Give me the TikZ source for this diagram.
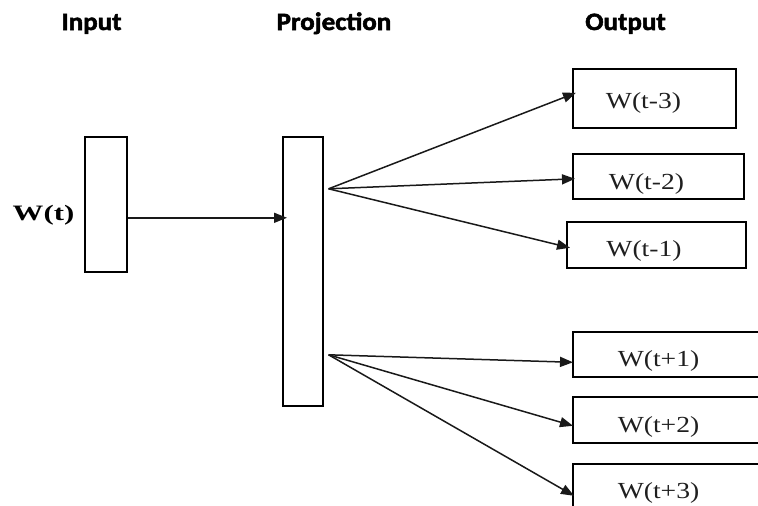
\documentclass[tikz,border=0pt]{standalone}
\usepackage{fontspec}
\setmainfont{Liberation Serif}
\newfontfamily\headfont[BoldFeatures={FakeBold=2}]{Carlito}
\usetikzlibrary{arrows.meta}
\begin{document}
\begin{tikzpicture}[x=1pt,y=-1pt,
  box/.style={draw=black, line width=1.6pt, inner sep=0pt, anchor=north west},
  heading/.style={font=\headfont\bfseries\fontsize{25}{28}\selectfont, anchor=base, inner sep=0pt},
  wordlabel/.style={font=\fontsize{23}{26}\selectfont, text=black!88, anchor=base, inner sep=0pt},
  arr/.style={draw=black!90, line width=1.5pt, -{Triangle[length=13pt,width=10pt]}}]
\useasboundingbox (0,0) rectangle (758,506);
\clip (0,0) rectangle (758,506);

% column headings
\node[heading] (hin)   at (91.5,30)  {\scalebox{1.08}[1]{Input}};
\node[heading] (hproj) at (334,30)   {\scalebox{1.08}[1]{Projection}};
\node[heading] (hout)  at (625.5,30) {\scalebox{1.08}[1]{Output}};

% input and projection layers
\node[box, minimum width=42pt, minimum height=135pt] (in)   at (84,136)  {};
\node[box, minimum width=40pt, minimum height=269pt] (proj) at (282,136) {};
\node[font=\bfseries\fontsize{22}{24}\selectfont, anchor=base, inner sep=0pt] (win) at (43.5,220) {\scalebox{1.4}[1]{W(t)}};

% context word boxes
\node[box, minimum width=163pt, minimum height=59pt] (o1) at (572,68)  {};
\node[box, minimum width=171pt, minimum height=45pt] (o2) at (572,153) {};
\node[box, minimum width=179pt, minimum height=46pt] (o3) at (566,221) {};
\node[box, minimum width=200pt, minimum height=45pt] (o4) at (572,331) {};
\node[box, minimum width=200pt, minimum height=46pt] (o5) at (572,396) {};
\node[box, minimum width=200pt, minimum height=60pt] (o6) at (572,463) {};

\node[wordlabel] (l1) at (643.5,108) {\scalebox{1.2}[1]{W(t-3)}};
\node[wordlabel] (l2) at (646.5,189) {\scalebox{1.2}[1]{W(t-2)}};
\node[wordlabel] (l3) at (644,256)   {\scalebox{1.2}[1]{W(t-1)}};
\node[wordlabel] (l4) at (658.5,366) {\scalebox{1.2}[1]{W(t+1)}};
\node[wordlabel] (l5) at (658.5,432) {\scalebox{1.2}[1]{W(t+2)}};
\node[wordlabel] (l6) at (658.5,498) {\scalebox{1.2}[1]{W(t+3)}};

% fan-out points on the projection layer
\coordinate (fanU) at ([xshift=5pt,yshift=82.5pt]proj.east);
\coordinate (fanL) at ([xshift=5pt,yshift=-83.5pt]proj.east);

% connectors
\draw[arr] ([yshift=-13.5pt]in.east) -- ([xshift=5pt,yshift=53.5pt]proj.west);
\draw[arr] (fanU) -- ([xshift=4pt,yshift=5.5pt]o1.west);
\draw[arr] (fanU) -- ([xshift=3pt,yshift=-2.5pt]o2.west);
\draw[arr] (fanU) -- ([xshift=4pt,yshift=-3pt]o3.west);
\draw[arr] (fanL) -- ([xshift=1pt,yshift=-8pt]o4.west);
\draw[arr] (fanL) -- ([xshift=1pt,yshift=-6pt]o5.west);
\draw[arr] (fanL) -- ([xshift=2pt,yshift=-2pt]o6.west);
\end{tikzpicture}
\end{document}
